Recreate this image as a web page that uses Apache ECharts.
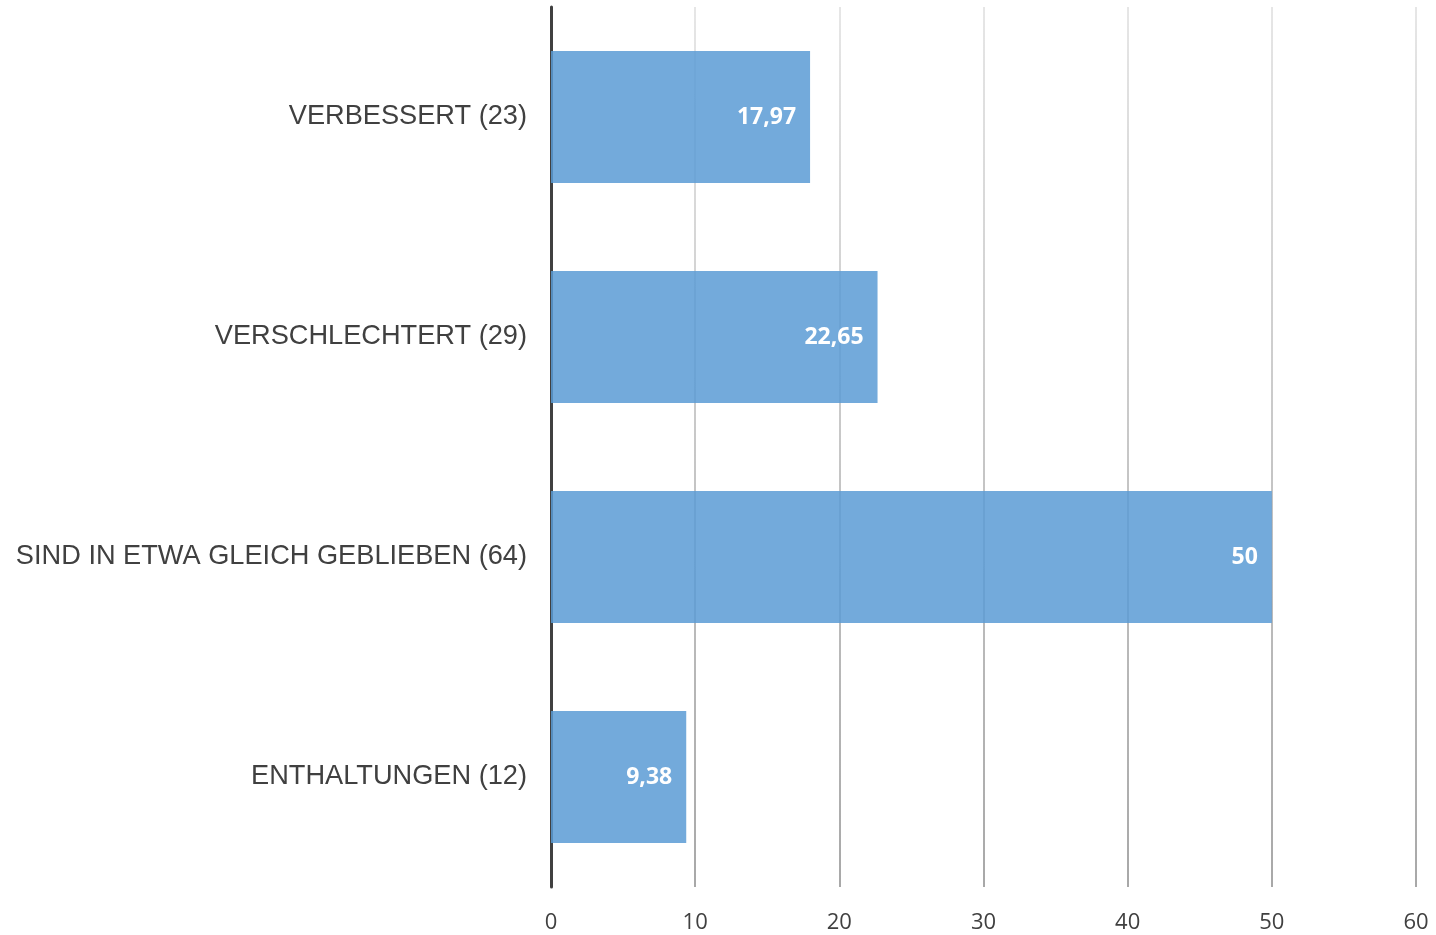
<!DOCTYPE html>
<html>
<head>
<meta charset="utf-8">
<script src="https://cdn.jsdelivr.net/npm/echarts@6/dist/echarts.min.js"></script>
<style>
  html, body { margin: 0; padding: 0; background: #fff; }
  #chart { width: 1436px; height: 935px; }
</style>
</head>
<body>
<div id="chart"></div>
<script>
// Kategorien und Werte (Prozent)
var categories = ["VERBESSERT (23)", "VERSCHLECHTERT (29)", "SIND IN ETWA GLEICH GEBLIEBEN (64)", "ENTHALTUNGEN (12)"];
var values = [17.97, 22.65, 50, 9.38];
var axisMin = 0;
var axisMax = 60;
var axisStep = 10;

var myChart = echarts.init(document.getElementById("chart"));

var option = {
    animation: false,
    grid: { left: 551, right: 20, top: 7, bottom: 48, containLabel: false },
    xAxis: {
        type: "value",
        min: axisMin,
        max: axisMax,
        interval: axisStep,
        axisLine: { show: false },
        axisTick: { show: false },
        axisLabel: {
            margin: 25,
            color: "#404040",
            fontSize: 22,
            fontFamily: "Open Sans"
        },
        splitLine: {
            show: true,
            lineStyle: {
                width: 2,
                color: {
                    type: "linear", x: 0, y: 7, x2: 0, y2: 887, global: true,
                    colorStops: [
                        { offset: 0, color: "#e6e6e6" },
                        { offset: 1, color: "#a8a8a8" }
                    ]
                }
            }
        }
    },
    yAxis: {
        type: "category",
        inverse: true,
        data: categories,
        axisLine: { show: true, lineStyle: { color: "#404040", width: 3 } },
        axisTick: { show: false },
        axisLabel: {
            margin: 24,
            color: "#404040",
            fontSize: 27.2,
            fontFamily: "Liberation Sans",
            padding: [8, 0, 0, 0]
        }
    },
    series: [{
        type: "bar",
        data: values,
        barCategoryGap: "40%",
        z: 1,
        itemStyle: { color: "rgba(91,155,213,0.85)" },
        label: {
            show: true,
            position: "insideRight",
            distance: 14,
            color: "#ffffff",
            fontSize: 23,
            fontWeight: "bold",
            fontFamily: "Open Sans",
            padding: [8, 0, 0, 0],
            formatter: function (p) {
                return String(p.value).replace(".", ",");
            }
        }
    }]
};
myChart.setOption(option);
</script>
</body>
</html>
